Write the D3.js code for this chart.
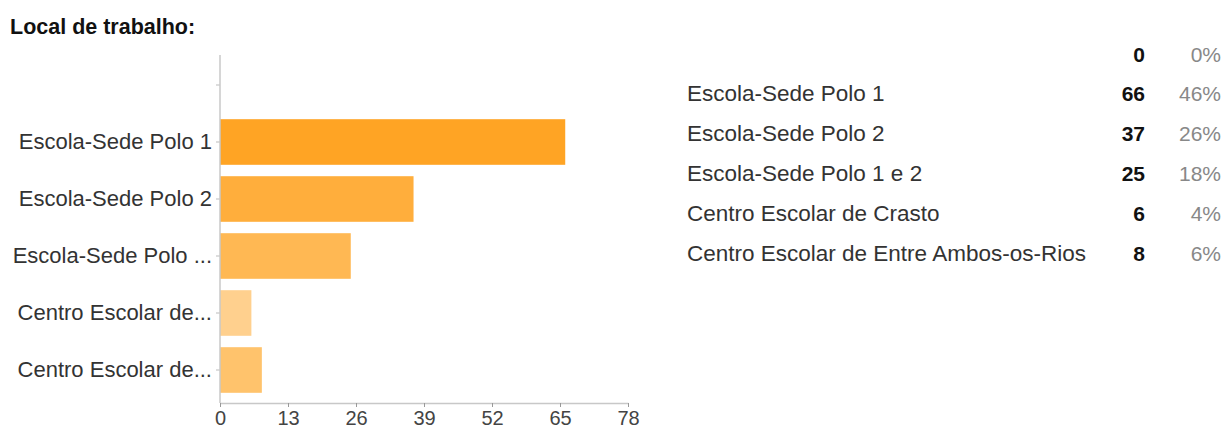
<!DOCTYPE html>
<html>
<head>
<meta charset="utf-8">
<script src="https://cdn.jsdelivr.net/npm/d3@7"></script>
<style>
  html, body { margin: 0; padding: 0; background: #fff; }
  svg { display: block; font-family: "Liberation Sans", Arial, sans-serif; }
</style>
</head>
<body>
<svg id="chart" width="1225" height="430"></svg>
<script>
// ---- data ----
const title = "Local de trabalho:";
const categories = ["", "Escola-Sede Polo 1", "Escola-Sede Polo 2", "Escola-Sede Polo 1 e 2", "Centro Escolar de Crasto", "Centro Escolar de Entre Ambos-os-Rios"];
const axisLabels = ["", "Escola-Sede Polo 1", "Escola-Sede Polo 2", "Escola-Sede Polo ...", "Centro Escolar de...", "Centro Escolar de..."];
const counts = [0, 66, 37, 25, 6, 8];
const percents = ["0%", "46%", "26%", "18%", "4%", "6%"];
const xTicks = [0, 13, 26, 39, 52, 65, 78];
const barColors = ["#ffa424", "#ffa424", "#ffae3c", "#ffb853", "#ffd08e", "#ffc36c"];

// ---- layout ----
const svg = d3.select("#chart");

svg.append("text")
  .attr("x", 10).attr("y", 34)
  .attr("font-size", 21.5).attr("font-weight", "bold").attr("fill", "#111")
  .text(title);

const x = d3.scaleLinear().domain([0, 78]).range([220, 628]);
const y = d3.scaleBand().domain(categories).range([56.5, 398.5]).paddingInner(0.2).paddingOuter(0.1);

const rows = categories.map((c, i) => ({ c, label: axisLabels[i], v: counts[i], p: percents[i], color: barColors[i] }));

// bars
svg.append("g").selectAll("rect")
  .data(rows.filter(d => d.v > 0))
  .join("rect")
  .attr("x", x(0))
  .attr("y", d => y(d.c))
  .attr("width", d => x(d.v) - x(0))
  .attr("height", y.bandwidth())
  .attr("fill", d => d.color);

// y axis
const yAxis = svg.append("g")
  .attr("transform", `translate(${x(0)},0)`)
  .call(d3.axisLeft(y).tickSize(4).tickPadding(4).tickFormat((d, i) => axisLabels[i]));
yAxis.select(".domain").remove();
yAxis.selectAll(".tick line").attr("stroke", "#bbb");
yAxis.selectAll(".tick text").attr("font-size", 22).attr("fill", "#333").attr("font-family", "Liberation Sans, Arial, sans-serif");
svg.append("line")
  .attr("x1", x(0)).attr("x2", x(0)).attr("y1", 55).attr("y2", 403)
  .attr("stroke", "#c8c8c8").attr("stroke-width", 1.5);

// x axis
const xAxis = svg.append("g")
  .attr("transform", "translate(0,403)")
  .call(d3.axisBottom(x).tickValues(xTicks).tickSize(4).tickPadding(4).tickSizeOuter(0));
xAxis.select(".domain").attr("stroke", "#c8c8c8").attr("stroke-width", 1.5);
xAxis.selectAll(".tick line").attr("stroke", "#999");
xAxis.selectAll(".tick text").attr("font-size", 20).attr("fill", "#444").attr("font-family", "Liberation Sans, Arial, sans-serif");

// summary table
const rowY = d3.scaleLinear().domain([0, 5]).range([61.7, 260.5]);
const table = svg.append("g");
table.selectAll("text.lab").data(rows).join("text")
  .attr("class", "lab")
  .attr("x", 687).attr("y", (d, i) => rowY(i))
  .attr("font-size", 22.5).attr("fill", "#333")
  .text(d => d.c);
table.selectAll("text.cnt").data(rows).join("text")
  .attr("class", "cnt")
  .attr("x", 1145).attr("y", (d, i) => rowY(i))
  .attr("text-anchor", "end")
  .attr("font-size", 21).attr("font-weight", "bold").attr("fill", "#111")
  .text(d => d.v);
table.selectAll("text.pct").data(rows).join("text")
  .attr("class", "pct")
  .attr("x", 1221).attr("y", (d, i) => rowY(i))
  .attr("text-anchor", "end")
  .attr("font-size", 21).attr("fill", "#888")
  .text(d => d.p);
</script>
</body>
</html>
